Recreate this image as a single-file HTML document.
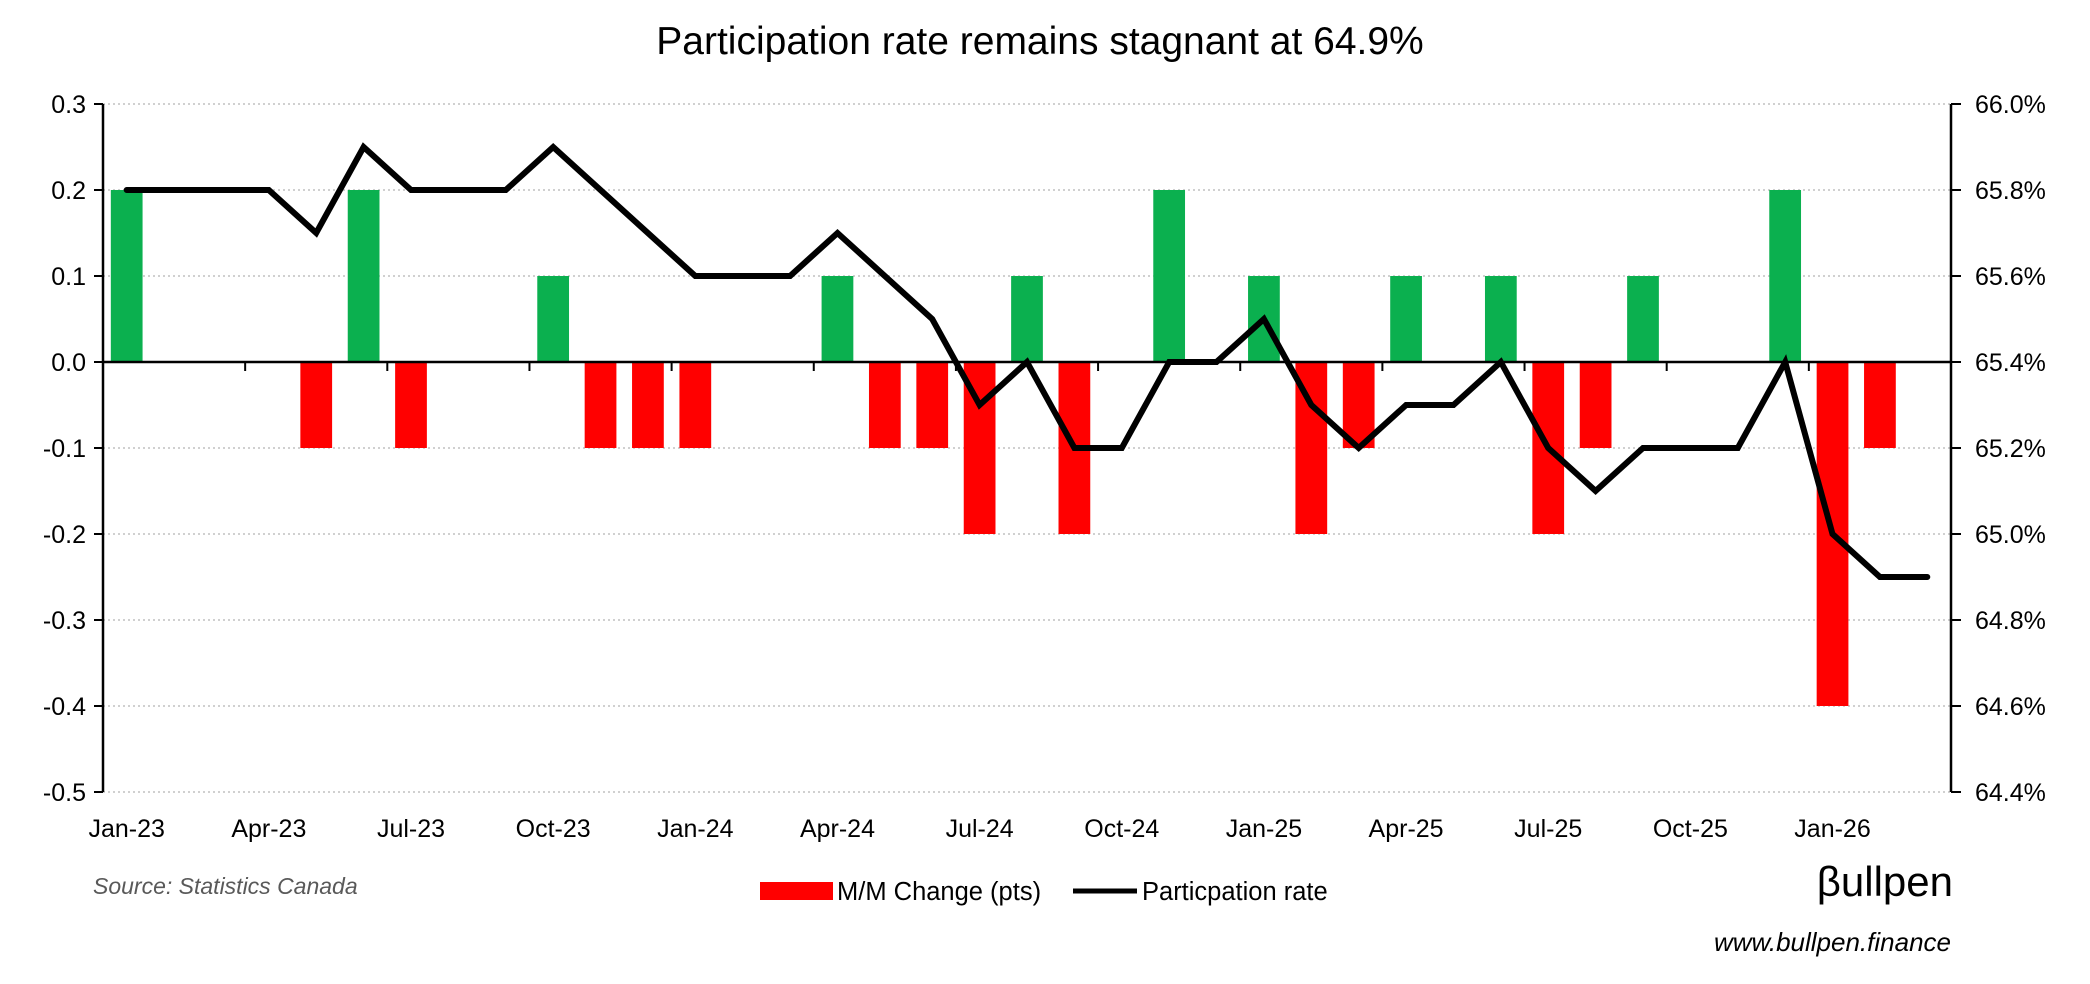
<!DOCTYPE html>
<html><head><meta charset="utf-8"><style>
body{margin:0;background:#fff;}
svg{display:block;font-family:"Liberation Sans Narrow","Liberation Sans",sans-serif;}
</style></head><body>
<svg id="chart" width="2090" height="984" viewBox="0 0 2090 984">
<text x="1040" y="54" text-anchor="middle" font-size="39" fill="#000">Participation rate remains stagnant at 64.9%</text>
<g id="grid"></g><g id="bars"></g><g id="axes"></g><g id="line"></g>
<text x="93" y="894" font-size="23" font-style="italic" fill="#595959">Source: Statistics Canada</text>
<g>
<rect x="760" y="882" width="73" height="18" fill="#FF0000"/>
<text x="837" y="900" font-size="25.5">M/M Change (pts)</text>
<line x1="1073" y1="891" x2="1137" y2="891" stroke="#000" stroke-width="5"/>
<text x="1142" y="900" font-size="25.5">Particpation rate</text>
</g>
<text x="1953" y="896" text-anchor="end" font-family="Liberation Sans,sans-serif" font-size="42" fill="#000">βullpen</text>
<text x="1951" y="951" text-anchor="end" font-family="Liberation Sans,sans-serif" font-size="26" font-style="italic" fill="#000">www.bullpen.finance</text>
</svg>
<script>
const months = ["Jan-23","Feb-23","Mar-23","Apr-23","May-23","Jun-23","Jul-23","Aug-23","Sep-23","Oct-23","Nov-23","Dec-23","Jan-24","Feb-24","Mar-24","Apr-24","May-24","Jun-24","Jul-24","Aug-24","Sep-24","Oct-24","Nov-24","Dec-24","Jan-25","Feb-25","Mar-25","Apr-25","May-25","Jun-25","Jul-25","Aug-25","Sep-25","Oct-25","Nov-25","Dec-25","Jan-26","Feb-26","Mar-26"];
const changeValues = [0.2,0,0,0,-0.1,0.2,-0.1,0,0,0.1,-0.1,-0.1,-0.1,0,0,0.1,-0.1,-0.1,-0.2,0.1,-0.2,0,0.2,0,0.1,-0.2,-0.1,0.1,0,0.1,-0.2,-0.1,0.1,0,0,0.2,-0.4,-0.1,0];
const rateValues = [65.8,65.8,65.8,65.8,65.7,65.9,65.8,65.8,65.8,65.9,65.8,65.7,65.6,65.6,65.6,65.7,65.6,65.5,65.3,65.4,65.2,65.2,65.4,65.4,65.5,65.3,65.2,65.3,65.3,65.4,65.2,65.1,65.2,65.2,65.2,65.4,65.0,64.9,64.9];
const leftTicks = [0.3,0.2,0.1,0.0,-0.1,-0.2,-0.3,-0.4,-0.5];
const rightTicks = [66.0,65.8,65.6,65.4,65.2,65.0,64.8,64.6,64.4];

const NS="http://www.w3.org/2000/svg";
const X0=103, X1=1951, Y0=104, Y1=792;
const band=(X1-X0)/months.length;
const xc=i=>X0+band*(i+0.5);
const yL=v=>Y0+(0.3-v)/0.8*(Y1-Y0);
const yR=v=>Y0+(66.0-v)/1.6*(Y1-Y0);
function mk(tag,attrs,parent){const e=document.createElementNS(NS,tag);for(const k in attrs)e.setAttribute(k,attrs[k]);document.getElementById(parent).appendChild(e);return e;}

leftTicks.forEach((t,i)=>{
  const y=yL(t);
  if(Math.abs(t)>1e-9){
    const g=mk('line',{x1:X0,x2:X1,y1:y,y2:y,stroke:'#d0d0d0','stroke-width':2,'stroke-dasharray':'2 3'},'grid');
    
    
  }
  const tk=mk('line',{x1:X0-9,x2:X0,y1:y,y2:y,stroke:'#000','stroke-width':2},'axes');
  
  
  const tx=mk('text',{x:X0-17,y:y+9,'text-anchor':'end','font-size':25},'axes');
  tx.textContent=t.toFixed(1);
  
  
});
rightTicks.forEach(t=>{
  const y=yR(t);
  const tk=mk('line',{x1:X1,x2:X1+10,y1:y,y2:y,stroke:'#000','stroke-width':2},'axes');
  
  
  const tx=mk('text',{x:X1+24,y:y+9,'font-size':25},'axes');
  tx.textContent=t.toFixed(1)+'%';
  
  
});
changeValues.forEach((v,i)=>{
  if(v===0)return;
  const y0=yL(0),y=yL(v);
  const r=mk('rect',{x:xc(i)-band*0.335,width:band*0.67,y:Math.min(y0,y),height:Math.abs(y-y0),fill:v>0?'#0BB04F':'#FF0000'},'bars');
  
  
});
const la=mk('line',{x1:X0,x2:X0,y1:Y0,y2:Y1,stroke:'#000','stroke-width':2.5},'axes');


const ra=mk('line',{x1:X1,x2:X1,y1:Y0,y2:Y1,stroke:'#000','stroke-width':2.5},'axes');


const za=mk('line',{x1:X0,x2:X1,y1:yL(0),y2:yL(0),stroke:'#000','stroke-width':2.5},'axes');


months.forEach((m,i)=>{
  if(i%3!==0)return;
  if(i>0){
    const tk=mk('line',{x1:X0+band*i,x2:X0+band*i,y1:yL(0),y2:yL(0)+9,stroke:'#000','stroke-width':2},'axes');
    
    
  }
  const tx=mk('text',{x:xc(i),y:837,'text-anchor':'middle','font-size':25},'axes');
  tx.textContent=m;
  
  
});
const pts=rateValues.map((v,i)=>xc(i).toFixed(1)+','+yR(v).toFixed(1)).join(' ');
const pl=mk('polyline',{points:pts,fill:'none',stroke:'#000','stroke-width':6,'stroke-linejoin':'miter','stroke-linecap':'round'},'line');


</script>
</body></html>
